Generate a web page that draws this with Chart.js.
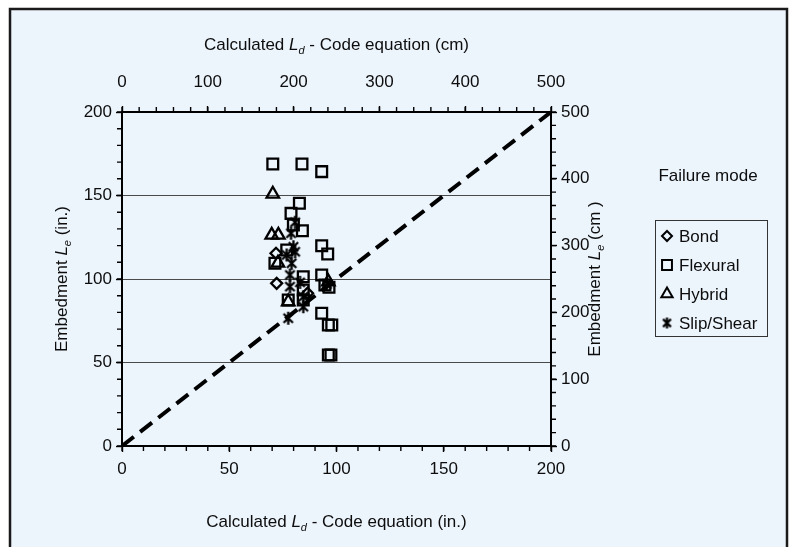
<!DOCTYPE html>
<html>
<head>
<meta charset="utf-8">
<script src="https://cdn.jsdelivr.net/npm/chart.js@4.4.1/dist/chart.umd.min.js"></script>
<style>
  html, body { margin: 0; padding: 0; background: #fff; }
  #wrap { width: 792px; height: 547px; }
</style>
</head>
<body>
<div id="wrap"><canvas id="chart" width="792" height="547"></canvas></div>
<script>
// Calculated Ld (in.) vs embedment Le (in.)
const bondLd = [71.8, 72.1, 86.5];
const bondLe = [115.4, 97.4, 91.5];

const flexLd = [70.3, 83.9, 93.1, 82.7, 78.8, 79.9, 84.1, 93.1, 95.9, 76.8, 71.3, 84.5,
                84.5, 77.5, 84.5, 93.1, 94.6, 93.1, 96.2, 97.8, 96.2, 97.4, 96.5];
const flexLe = [168.9, 168.9, 164.3, 145.3, 139.3, 132.3, 128.9, 119.9, 115.0, 117.4, 109.4, 101.4,
                93.4, 87.4, 87.4, 102.4, 96.4, 79.5, 72.5, 72.5, 54.5, 54.5, 95.0];

const hybridLd = [70.3, 69.8, 72.9, 72.7, 77.5, 96.2];
const hybridLe = [150.9, 126.3, 126.3, 109.6, 86.4, 98.4];

const slipLd = [78.8, 80.7, 79.9, 80.7, 76.8, 79.1, 78.3, 78.3, 84.5, 84.5, 77.5, 95.5, 83.0];
const slipLe = [127.4, 134.0, 119.3, 116.3, 114.4, 109.4, 102.4, 95.4, 89.4, 83.4, 76.5, 97.0, 98.0];

// 1:1 line
const equalLd = [0, 200];
const equalLe = [0, 200];

const inTicks = [0, 50, 100, 150, 200];
const cmTicks = [0, 100, 200, 300, 400, 500];

const FONT = '"Liberation Sans", Arial, sans-serif';
const INK = '#0d0d0d';
const TXT = 17;

function pairs(xs, ys) {
  return xs.map((x, i) => ({ x, y: ys[i] }));
}

function makeStar(size, lw) {
  const c = document.createElement('canvas');
  c.width = c.height = size;
  const g = c.getContext('2d');
  g.strokeStyle = '#000';
  g.lineWidth = lw;
  const m = size / 2, r = size / 2 - 1;
  const dx = r * 0.72, dy = r * 0.7;
  g.beginPath();
  g.moveTo(m, m - r); g.lineTo(m, m + r);
  g.moveTo(m - dx, m - dy); g.lineTo(m + dx, m + dy);
  g.moveTo(m + dx, m - dy); g.lineTo(m - dx, m + dy);
  g.stroke();
  return c;
}
const starImg = makeStar(15, 2.3);
const starLegend = makeStar(13, 2.2);

function drawRich(ctx, parts, cx, cy, angle) {
  const size = TXT;
  const fontFor = p => `${p.italic ? 'italic ' : ''}${p.sub ? Math.round(size * 0.65) : size}px ${FONT}`;
  let total = 0;
  parts.forEach(p => { ctx.font = fontFor(p); p.w = ctx.measureText(p.t).width; total += p.w; });
  ctx.save();
  ctx.translate(cx, cy);
  ctx.rotate(angle);
  ctx.textBaseline = 'middle';
  ctx.textAlign = 'left';
  ctx.fillStyle = INK;
  let x = -total / 2;
  parts.forEach(p => {
    ctx.font = fontFor(p);
    ctx.fillText(p.t, x, p.sub ? size * 0.32 : 0);
    x += p.w;
  });
  ctx.restore();
}

const framePlugin = {
  id: 'frame',
  beforeDraw(chart) {
    const { ctx, width, height } = chart;
    ctx.save();
    ctx.fillStyle = '#fff';
    ctx.fillRect(0, 0, width, height);
    ctx.fillStyle = '#ECF4FC';
    ctx.fillRect(10, 9, 777, height);
    ctx.strokeStyle = '#1a1a1a';
    ctx.lineWidth = 2.5;
    ctx.strokeRect(10, 9, 777, height + 10);
    ctx.restore();
  }
};

// minor tick marks, positioned by the scales
const minorTicks = [
  { id: 'x', step: 10, max: 200, side: 'bottom' },
  { id: 'x2', step: 20, max: 500, side: 'top' },
  { id: 'y', step: 10, max: 200, side: 'left' },
  { id: 'y2', step: 20, max: 500, side: 'right' }
];
const minorPlugin = {
  id: 'minor',
  afterDraw(chart) {
    const { ctx, chartArea: a } = chart;
    ctx.save();
    ctx.strokeStyle = '#000';
    ctx.lineWidth = 1.4;
    ctx.beginPath();
    minorTicks.forEach(m => {
      const s = chart.scales[m.id];
      for (let v = 0; v <= m.max; v += m.step) {
        const p = s.getPixelForValue(v);
        if (m.side === 'bottom') { ctx.moveTo(p, a.bottom); ctx.lineTo(p, a.bottom + 5); }
        if (m.side === 'top') { ctx.moveTo(p, a.top); ctx.lineTo(p, a.top - 5); }
        if (m.side === 'left') { ctx.moveTo(a.left, p); ctx.lineTo(a.left - 5, p); }
        if (m.side === 'right') { ctx.moveTo(a.right, p); ctx.lineTo(a.right + 5, p); }
      }
    });
    ctx.stroke();
    ctx.restore();
  }
};

const titlePlugin = {
  id: 'titles',
  afterDraw(chart) {
    const { ctx, chartArea: a } = chart;
    const cx = (a.left + a.right) / 2;
    const cy = (a.top + a.bottom) / 2;
    drawRich(ctx, [{ t: 'Calculated ' }, { t: 'L', italic: true }, { t: 'd', italic: true, sub: true },
      { t: ' - Code equation (cm)' }], cx, a.top - 67, 0);
    drawRich(ctx, [{ t: 'Calculated ' }, { t: 'L', italic: true }, { t: 'd', italic: true, sub: true },
      { t: ' - Code equation (in.)' }], cx, a.bottom + 76, 0);
    drawRich(ctx, [{ t: 'Embedment ' }, { t: 'L', italic: true }, { t: 'e', italic: true, sub: true },
      { t: ' (in.)' }], a.left - 60, cy, -Math.PI / 2);
    drawRich(ctx, [{ t: 'Embedment ' }, { t: 'L', italic: true }, { t: 'e', italic: true, sub: true },
      { t: ' (cm )' }], a.right + 44, cy, -Math.PI / 2);
  }
};

const legendPlugin = {
  id: 'boxLegend',
  afterDraw(chart) {
    const { ctx, chartArea: a } = chart;
    const left = a.right + 104, top = 220, w = 112, h = 116;
    ctx.save();
    ctx.fillStyle = INK;
    ctx.font = `${TXT}px ${FONT}`;
    ctx.textAlign = 'center';
    ctx.textBaseline = 'middle';
    ctx.fillText('Failure mode', left + w / 2 - 3, 176);
    ctx.strokeStyle = '#333';
    ctx.lineWidth = 1;
    ctx.strokeRect(left + 0.5, top + 0.5, w, h);
    ctx.textAlign = 'left';
    const items = chart.data.datasets.filter(d => d.label);
    items.forEach((d, i) => {
      const y = top + 16 + i * 29;
      ctx.strokeStyle = '#000';
      ctx.fillStyle = 'rgba(0,0,0,0)';
      ctx.lineWidth = 2;
      const style = d.pointStyle === starImg ? starLegend : d.pointStyle;
      const r = style === 'rectRot' ? 5 : (style === 'triangle' ? 6.5 : 7);
      Chart.helpers.drawPoint(ctx, { pointStyle: style, radius: r, rotation: 0, borderWidth: 2 }, left + 12, y);
      ctx.fillStyle = INK;
      ctx.fillText(d.label, left + 24, y + 1);
    });
    ctx.restore();
  }
};

function markerSet(label, xs, ys, style, radius) {
  return {
    label,
    data: pairs(xs, ys),
    pointStyle: style,
    pointRadius: radius,
    pointHoverRadius: radius,
    pointBorderWidth: 2.3,
    pointBorderColor: '#000',
    pointBackgroundColor: 'rgba(0,0,0,0)',
    showLine: false
  };
}

const tickFont = { family: FONT, size: TXT };

new Chart(document.getElementById('chart'), {
  type: 'scatter',
  data: {
    datasets: [
      markerSet('Bond', bondLd, bondLe, 'rectRot', 5.5),
      markerSet('Flexural', flexLd, flexLe, 'rect', 7.6),
      markerSet('Hybrid', hybridLd, hybridLe, 'triangle', 7.2),
      markerSet('Slip/Shear', slipLd, slipLe, starImg, 7),
      {
        data: pairs(equalLd, equalLe),
        showLine: true,
        borderColor: '#000',
        borderWidth: 4,
        borderDash: [15, 8],
        pointRadius: 0,
        fill: false
      }
    ]
  },
  options: {
    responsive: false,
    animation: false,
    layout: { padding: 0 },
    plugins: { legend: { display: false }, tooltip: { enabled: false } },
    scales: {
      x: {
        type: 'linear', position: 'bottom', min: 0, max: 200,
        afterBuildTicks: s => { s.ticks = inTicks.map(v => ({ value: v })); },
        afterFit: s => { s.height = 101; },
        grid: { drawOnChartArea: false, tickLength: 6, tickColor: '#000', tickWidth: 1.4 },
        border: { color: '#000', width: 2 },
        ticks: { font: tickFont, color: INK, padding: 7, maxRotation: 0 }
      },
      x2: {
        type: 'linear', position: 'top', min: 0, max: 500,
        afterBuildTicks: s => { s.ticks = cmTicks.map(v => ({ value: v })); },
        afterFit: s => { s.height = 112; },
        grid: { drawOnChartArea: false, tickLength: 6, tickColor: '#000', tickWidth: 1.4 },
        border: { color: '#000', width: 2 },
        ticks: { font: tickFont, color: INK, padding: 13, maxRotation: 0 }
      },
      y: {
        type: 'linear', position: 'left', min: 0, max: 200,
        afterBuildTicks: s => { s.ticks = inTicks.map(v => ({ value: v })); },
        afterFit: s => { s.width = 122; },
        grid: { color: '#4a4a4a', lineWidth: 1, tickLength: 6, tickColor: '#000', tickWidth: 1.4 },
        border: { color: '#000', width: 2 },
        ticks: { font: tickFont, color: INK, padding: 4 }
      },
      y2: {
        type: 'linear', position: 'right', min: 0, max: 500,
        afterBuildTicks: s => { s.ticks = cmTicks.map(v => ({ value: v })); },
        afterFit: s => { s.width = 241; },
        grid: { drawOnChartArea: false, tickLength: 6, tickColor: '#000', tickWidth: 1.4 },
        border: { color: '#000', width: 2 },
        ticks: { font: tickFont, color: INK, padding: 4 }
      }
    }
  },
  plugins: [framePlugin, minorPlugin, titlePlugin, legendPlugin]
});
</script>
</body>
</html>
